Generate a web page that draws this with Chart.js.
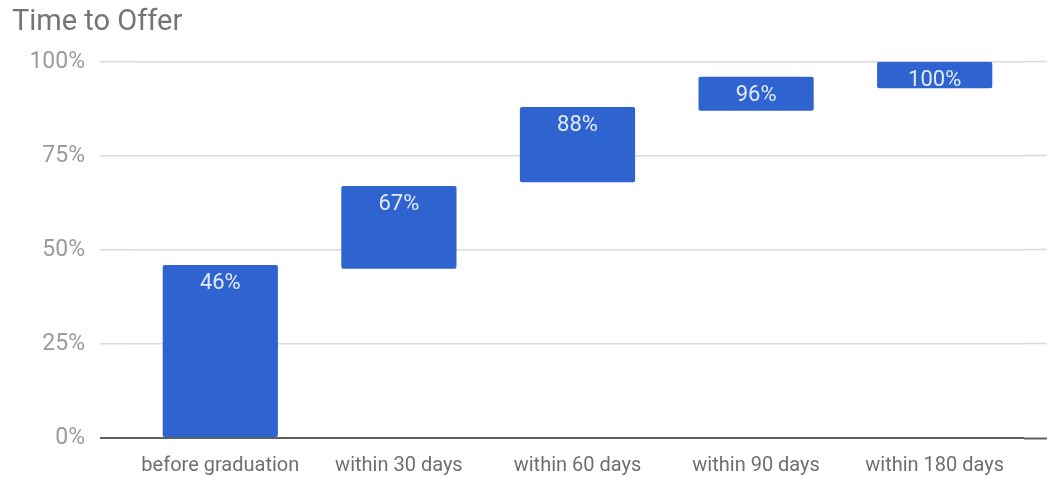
<!DOCTYPE html>
<html>
<head>
<meta charset="utf-8">
<script src="https://cdn.jsdelivr.net/npm/chart.js@4.4.0/dist/chart.umd.min.js"></script>
<style>
  html, body { margin: 0; padding: 0; background: #fff; }
  #wrap { width: 1047px; height: 477px; }
</style>
</head>
<body>
<div id="wrap"><canvas id="myChart"></canvas></div>
<script>
'use strict';

// waterfall steps (bar bottom / bar top, in %)
let categories = ['before graduation', 'within 30 days', 'within 60 days', 'within 90 days', 'within 180 days'];
let barStart = [0, 45, 68, 87, 93];
let barEnd = [46, 67, 88, 96, 100];
let yTicks = [0, 25, 50, 75, 100];

let ranges = [];
for (let i = 0; i < categories.length; i++) {
  ranges.push([barStart[i], barEnd[i]]);
}

function gridColor(c) {
  return c.tick.value === 0 ? '#5f5f5f' : '#dadada';
}
function gridWidth(c) {
  return c.tick.value === 0 ? 2 : 1.5;
}

// value labels at the top of each bar, clipped to the bar like the original
let barLabels = {
  id: 'barLabels',
  afterDatasetsDraw(chart) {
    let ctx = chart.ctx;
    let meta = chart.getDatasetMeta(0);
    meta.data.forEach(function (bar, i) {
      let w = bar.width;
      let top = Math.min(bar.y, bar.base);
      let h = Math.abs(bar.base - bar.y);
      ctx.save();
      ctx.beginPath();
      ctx.rect(bar.x - w / 2, top, w, h);
      ctx.clip();
      ctx.font = '22px Roboto';
      ctx.fillStyle = '#e3ebfb';
      ctx.textAlign = 'center';
      ctx.textBaseline = 'middle';
      ctx.fillText(barEnd[i] + '%', bar.x, top + 19);
      ctx.restore();
    });
  }
};

let ctx = document.getElementById('myChart').getContext('2d');
let myChart = new Chart(ctx, {
  type: 'bar',
  data: {
    labels: categories,
    datasets: [{
      data: ranges,
      backgroundColor: '#2f63cf',
      borderRadius: 2,
      borderSkipped: false,
      categoryPercentage: 0.645,
      barPercentage: 1
    }]
  },
  options: {
    responsive: true,
    maintainAspectRatio: false,
    animation: false,
    layout: { padding: { left: 12, right: 0, top: 0, bottom: 0 } },
    plugins: {
      legend: { display: false },
      tooltip: { enabled: false },
      title: {
        display: true,
        text: 'Time to Offer',
        align: 'start',
        color: '#757575',
        font: { family: 'Roboto', size: 29, weight: 'normal' },
        padding: { top: 5, bottom: 22 }
      }
    },
    scales: {
      x: {
        afterFit(s) { s.height = 39; },
        grid: { display: false },
        border: { display: false },
        ticks: {
          color: '#6f6f6f',
          font: { family: 'Roboto', size: 20 },
          padding: 8,
          maxRotation: 0
        }
      },
      y: {
        min: 0,
        max: 100,
        afterFit(s) { s.width = 119; },
        afterBuildTicks(s) { s.ticks = yTicks.map(v => ({ value: v })); },
        border: { display: false },
        grid: { color: gridColor, lineWidth: gridWidth, tickLength: 31, tickColor: gridColor, tickWidth: gridWidth },
        ticks: {
          color: '#9b9b9b',
          font: { family: 'Roboto', size: 23 },
          padding: 15,
          callback: v => v + '%'
        }
      },
      y2: {
        position: 'right',
        min: 0,
        max: 100,
        afterFit(s) { s.width = 23; },
        afterBuildTicks(s) { s.ticks = yTicks.map(v => ({ value: v })); },
        border: { display: false },
        grid: { drawOnChartArea: false, tickLength: 23, tickColor: gridColor, tickWidth: gridWidth },
        ticks: { display: false }
      }
    }
  },
  plugins: [barLabels]
});
</script>
</body>
</html>
